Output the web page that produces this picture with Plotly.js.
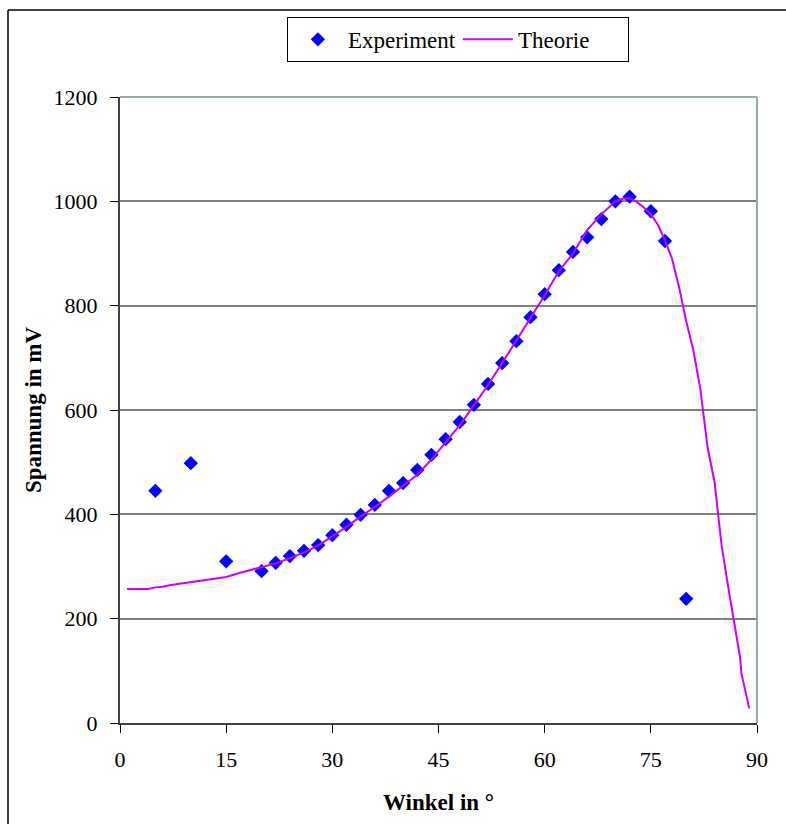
<!DOCTYPE html>
<html>
<head>
<meta charset="utf-8">
<script src="https://cdn.plot.ly/plotly-3.0.1.min.js"></script>
<style>
html, body { margin: 0; padding: 0; background: #ffffff; }
#chart { width: 786px; height: 824px; }
</style>
</head>
<body>
<div id="chart"></div>
<script>
// Experiment (measured)
const expX = [5, 10, 15, 20, 22, 24, 26, 28, 30, 32, 34, 36, 38, 40, 42, 44, 46, 48, 50, 52, 54, 56, 58, 60, 62, 64, 66, 68, 70, 72, 75, 77, 80];
const expY = [445, 498, 310, 291, 307, 320, 330, 341, 360, 380, 399, 418, 445, 460, 485, 514, 544, 577, 610, 650, 690, 732, 778, 822, 868, 903, 931, 966, 1000, 1009, 981, 924, 238];

// Theorie (curve)
const theoX = [1, 2, 3, 4, 5, 6, 7, 8, 10, 12, 14, 15, 17, 20, 22, 24, 26, 28, 30, 32, 34, 36, 38, 40, 42, 44, 46, 48, 50, 52, 54, 56, 58, 60, 62, 64, 66, 68, 70, 71, 72, 73, 74, 75, 76, 77, 78, 79, 80, 81, 82, 83, 84, 85, 86, 87, 87.6, 87.8, 88.3, 88.9];
const theoY = [257, 257, 257, 257, 260, 261, 264, 266, 270, 274, 278, 280, 288, 298, 306, 316, 327, 340, 358, 376, 396, 414, 434, 455, 476, 505, 538, 571, 609, 648, 690, 733, 776, 820, 866, 900, 945, 975, 1000, 1005, 1006, 999, 988, 975, 955, 925, 890, 835, 770, 715, 640, 530, 462, 340, 255, 170, 127, 95, 63, 28];

const xTicks = [0, 15, 30, 45, 60, 75, 90];
const yTicks = [0, 200, 400, 600, 800, 1000, 1200];

const serif = "Liberation Serif, Times New Roman, serif";

const traces = [
  {
    x: expX, y: expY, type: 'scatter', mode: 'markers', name: 'Experiment',
    marker: { symbol: 'diamond', size: 11, color: '#0000ff', line: { width: 0 } },
    cliponaxis: false
  },
  {
    x: theoX, y: theoY, type: 'scatter', mode: 'lines', name: 'Theorie',
    line: { color: '#cc00ff', width: 2 }
  }
];

const layout = {
  width: 786, height: 824,
  margin: { l: 120, r: 29, t: 97, b: 101 },
  paper_bgcolor: '#ffffff', plot_bgcolor: '#ffffff',
  font: { family: serif, size: 21, color: '#000000' },
  showlegend: true,
  legend: {
    orientation: 'h', x: 0.262, xanchor: 'left', y: 1.128, yanchor: 'top',
    bordercolor: '#000000', borderwidth: 1, bgcolor: '#ffffff',
    font: { family: serif, size: 23, color: '#000000' },
    itemwidth: 50, entrywidth: 105,
    traceorder: 'normal'
  },
  xaxis: {
    range: [0, 90], tickvals: xTicks, ticktext: xTicks.map(String),
    showgrid: false, zeroline: false,
    showline: true, linecolor: '#404040', linewidth: 2,
    ticks: 'outside', ticklen: 8, tickwidth: 1, tickcolor: '#000000',
    ticklabelstandoff: 8,
    tickfont: { family: serif, size: 22, color: '#000000' },
    title: { text: '<b>Winkel in °</b>', font: { family: serif, size: 23, color: '#000000' }, standoff: 22 },
    fixedrange: true
  },
  yaxis: {
    range: [0, 1200], tickvals: yTicks, ticktext: yTicks.map(String),
    showgrid: true, gridcolor: '#808080', gridwidth: 2,
    zeroline: false,
    showline: true, linecolor: '#404040', linewidth: 2,
    ticks: 'outside', ticklen: 8, tickwidth: 1, tickcolor: '#000000',
    ticklabelstandoff: 8,
    tickfont: { family: serif, size: 22, color: '#000000' },
    title: { text: '<b>Spannung in mV</b>', font: { family: serif, size: 23, color: '#000000' }, standoff: 6 },
    fixedrange: true
  },
  shapes: [
    { type: 'line', xref: 'paper', yref: 'paper', x0: 0, x1: 1, y0: 1, y1: 1, line: { color: '#99aaaa', width: 2 }, layer: 'above' },
    { type: 'line', xref: 'paper', yref: 'paper', x0: 1, x1: 1, y0: 0, y1: 1, line: { color: '#99aaaa', width: 2 }, layer: 'above' },
    { type: 'line', xref: 'paper', yref: 'paper', x0: -0.1758, x1: -0.1758, y0: -0.25, y1: 1.139, line: { color: '#000000', width: 1.5 } },
    { type: 'line', xref: 'paper', yref: 'paper', x0: -0.1758, x1: 1.1, y0: 1.139, y1: 1.139, line: { color: '#000000', width: 1.5 } }
  ]
};

Plotly.newPlot('chart', traces, layout, { displayModeBar: false, staticPlot: true });
</script>
</body>
</html>
